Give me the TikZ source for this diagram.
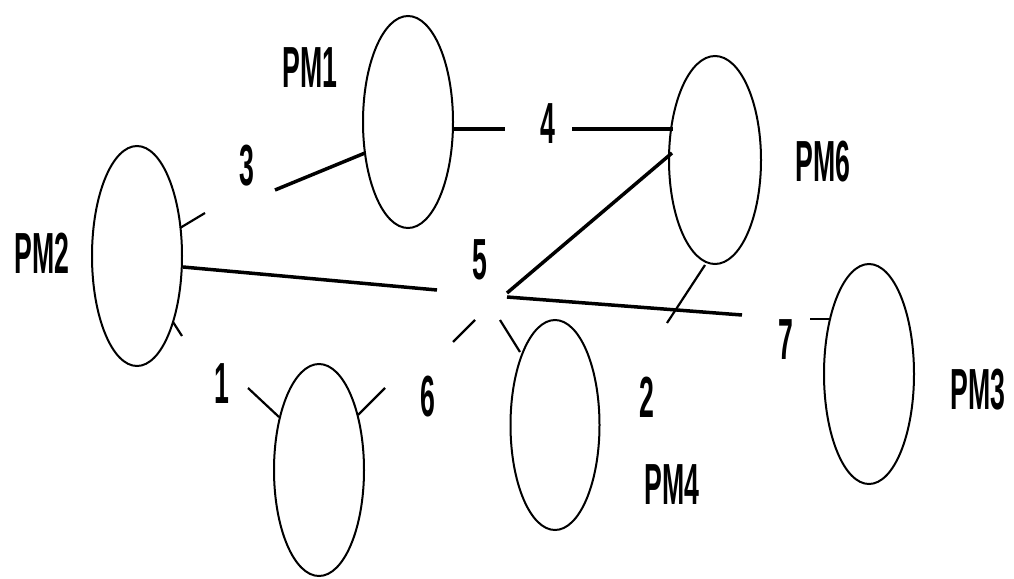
\documentclass[tikz,border=0pt]{standalone}
\usepackage{fontspec}
\setmainfont{Liberation Sans}
\usetikzlibrary{shapes.geometric}
\tikzset{
  pm/.style={ellipse, draw=black, line width=2pt, inner sep=0pt, outer sep=0pt},
  lbl/.style={inner sep=0pt, outer sep=0pt, font=\fontsize{58}{58}\selectfont\bfseries},
  conn/.style={line width=3.5pt, black},
  tick/.style={line width=2.2pt, black}
}
\newcommand{\nt}[1]{\scalebox{0.46}[1]{#1}}
\begin{document}
\begin{tikzpicture}[x=1pt,y=-1pt]
\useasboundingbox (0,0) rectangle (1014,578);
% ellipses
\node[pm, minimum width=90pt, minimum height=212pt] (pm1) at (408,122) {};
\node[pm, minimum width=92pt, minimum height=208pt] (pm6) at (715,160) {};
\node[pm, minimum width=90pt, minimum height=220pt] (pm2) at (137,256) {};
\node[pm, minimum width=90pt, minimum height=212pt] (pm5) at (319,470) {};
\node[pm, minimum width=89pt, minimum height=210pt] (pm4) at (555,425) {};
\node[pm, minimum width=90pt, minimum height=220pt] (pm3) at (869,374) {};
% labels
\node[lbl] (tpm1) at (310,68) {\nt{PM1}};
\node[lbl] (tpm6) at (823,162) {\nt{PM6}};
\node[lbl] (tpm2) at (42,253) {\nt{PM2}};
\node[lbl] (tpm3) at (978,390) {\nt{PM3}};
\node[lbl] (tpm4) at (672,485) {\nt{PM4}};
\node[lbl] (t3) at (247,166) {\nt{3}};
\node[lbl] (t4) at (548,124) {\nt{4}};
\node[lbl] (t5) at (480,260) {\nt{5}};
\node[lbl] (t7) at (786,340) {\nt{7}};
\node[lbl] (t1) at (222,384) {\nt{1}};
\node[lbl] (t6) at (428,397) {\nt{6}};
\node[lbl] (t2) at (647,397) {\nt{2}};
% connector end points
\coordinate (a3) at (275,190);
\coordinate (b3) at (365,153);
\coordinate (a4) at (453,129);
\coordinate (b4) at (505,129);
\coordinate (c4) at (572,129);
\coordinate (d4) at (673,129);
\coordinate (a65) at (672,153);
\coordinate (b65) at (507,293);
\coordinate (a25) at (183,267);
\coordinate (b25) at (437,290);
\coordinate (a57) at (507,297);
\coordinate (b57) at (742,315);
\coordinate (p6a) at (705,265);
\coordinate (p6b) at (667,323);
\coordinate (s6a) at (453,342);
\coordinate (s6b) at (475,320);
\coordinate (p4a) at (500,320);
\coordinate (p4b) at (520,352);
\coordinate (e1a) at (248,388);
\coordinate (e1b) at (279,417);
\coordinate (e2a) at (358,415);
\coordinate (e2b) at (385,388);
\coordinate (q1a) at (180,228);
\coordinate (q1b) at (205,213);
\coordinate (q2a) at (173,322);
\coordinate (q2b) at (182,336);
\coordinate (r3a) at (810,319);
\coordinate (r3b) at (830,319);
% connectors
\draw[conn] (a3) -- (b3);
\draw[conn, line width=4pt] (a4) -- (b4);
\draw[conn, line width=4pt] (c4) -- (d4);
\draw[conn] (a65) -- (b65);
\draw[conn] (a25) -- (b25);
\draw[conn] (a57) -- (b57);
\draw[tick] (p6a) -- (p6b);
\draw[tick] (s6a) -- (s6b);
\draw[tick] (p4a) -- (p4b);
\draw[tick] (e1a) -- (e1b);
\draw[tick] (e2a) -- (e2b);
\draw[tick] (q1a) -- (q1b);
\draw[tick] (q2a) -- (q2b);
\draw[tick] (r3a) -- (r3b);
\end{tikzpicture}
\end{document}
